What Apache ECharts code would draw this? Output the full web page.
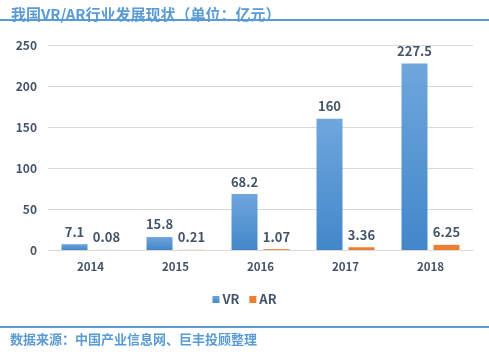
<!DOCTYPE html>
<html><head><meta charset="utf-8">
<script src="https://cdn.jsdelivr.net/npm/echarts@6/dist/echarts.min.js"></script>
<style>html,body{margin:0;padding:0;background:#fff}#c{width:489px;height:354px}</style>
</head><body><div id="c"></div>
<script>
const categories = ['2014','2015','2016','2017','2018'];
const vrValues = [7.1, 15.8, 68.2, 160, 227.5];
const arValues = [0.08, 0.21, 1.07, 3.36, 6.25];
const vrLabels = ['7.1','15.8','68.2','160','227.5'];
const arLabels = ['0.08','0.21','1.07','3.36','6.25'];
const yTicks = [0, 50, 100, 150, 200, 250];

const chart = echarts.init(document.getElementById('c'), null, {renderer:'canvas'});
const font = '"Noto Sans CJK SC", "Noto Sans", sans-serif';
const labelColor = '#44546A';
chart.setOption({
  animation:false,
  textStyle:{fontFamily:font},
  title:[
    {text:'我国VR/AR行业发展现状（单位：亿元）', left:6, top:2,
     textStyle:{fontSize:15, fontWeight:'bold', color:'#5B9BD5', fontFamily:font}},
    {text:'数据来源：中国产业信息网、巨丰投顾整理', left:5, top:328,
     textStyle:{fontSize:13, fontWeight:'bold', color:'#5B9BD5', fontFamily:font}}
  ],
  graphic:[
    {type:'rect', shape:{x:0,y:19,width:489,height:2}, style:{fill:'#5B9BD5'}},
    {type:'rect', shape:{x:0,y:326,width:489,height:2}, style:{fill:'#5B9BD5'}}
  ],
  legend:{
    data:['VR','AR'], left:'center', top:288, itemWidth:7, itemHeight:7, itemGap:10,
    icon:'rect',
    textStyle:{fontSize:13, fontWeight:'bold', color:labelColor, fontFamily:font, padding:[0,0,0,-2]}
  },
  grid:{left:48, right:16, top:45, bottom:104, containLabel:false},
  xAxis:{
    type:'category', data:categories,
    axisLine:{lineStyle:{color:'#d9d9d9'}}, axisTick:{show:false},
    axisLabel:{fontSize:11.5, fontWeight:'bold', color:labelColor, margin:11}
  },
  yAxis:{
    type:'value', min:yTicks[0], max:yTicks[yTicks.length-1], interval:50,
    axisLine:{show:false}, axisTick:{show:false},
    splitLine:{lineStyle:{color:'#d9d9d9'}},
    axisLabel:{fontSize:12, fontWeight:'bold', color:labelColor, margin:11}
  },
  series:[
    {name:'VR', type:'bar', data:vrValues, barWidth:26, barGap:'23%',
     itemStyle:{color:new echarts.graphic.LinearGradient(0,0,0,1,[{offset:0,color:'#6FA6DC'},{offset:1,color:'#4287CA'}])},
     label:{show:true, position:'top', distance:6, fontSize:13, fontWeight:'bold', color:labelColor,
            formatter:p=>vrLabels[p.dataIndex]}},
    {name:'AR', type:'bar', data:arValues, barWidth:26,
     itemStyle:{color:'#ED7D31'},
     label:{show:true, position:'top', distance:6, fontSize:13, fontWeight:'bold', color:labelColor,
            formatter:p=>arLabels[p.dataIndex]}}
  ]
});
</script></body></html>
